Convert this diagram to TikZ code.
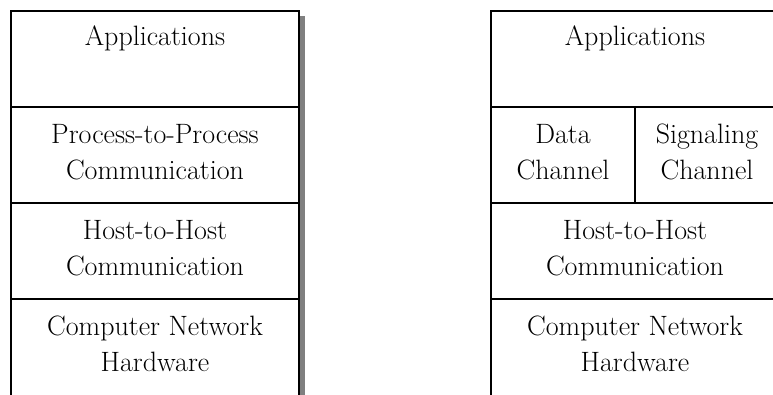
\documentclass[tikz,border=0pt]{standalone}
\definecolor{shadowgray}{RGB}{128,128,128}
\begin{document}
\begin{tikzpicture}[x=1pt,y=-1pt,
  cell/.style={draw=none, minimum width=288pt, minimum height=96pt, inner sep=0pt, outer sep=0pt, anchor=north west},
  halfcell/.style={cell, minimum width=144pt},
  txt/.style={font=\fontsize{28}{36}\selectfont, align=center, inner sep=0pt, anchor=base},
  oneline/.style={txt, yshift=-34pt},
  twoline/.style={txt, yshift=-72pt},
  border/.style={line width=2pt}]
\useasboundingbox (0,0) rectangle (773,394);
% left stack
\node[cell] (lapp) at (11,11) {};
\node[cell] (lpp) at (11,107) {};
\node[cell] (lhh) at (11,203) {};
\node[cell] (lhw) at (11,299) {};
% right stack
\node[cell] (rapp) at (491,11) {};
\node[halfcell] (rdata) at (491,107) {};
\node[halfcell] (rsig) at (635,107) {};
\node[cell] (rhh) at (491,203) {};
\node[cell] (rhw) at (491,299) {};
% shadow
\fill[shadowgray] (299.5,16) rectangle (305,400);
% borders
\draw[border] (lhw.south west) -- (lapp.north west) -- (lapp.north east) -- (lhw.south east);
\draw[border] (lpp.north west) -- (lpp.north east);
\draw[border] (lhh.north west) -- (lhh.north east);
\draw[border] (lhw.north west) -- (lhw.north east);
\draw[border] (rhw.south west) -- (rapp.north west) -- (rapp.north east);
\draw[border] (rdata.north west) -- (rsig.north east);
\draw[border] (rhh.north west) -- (rhh.north east);
\draw[border] (rhw.north west) -- (rhw.north east);
\draw[border] (rdata.north east) -- (rdata.south east);
% texts
\node[oneline] (tlapp) at (lapp.north) {Applications};
\node[twoline] (tlpp) at (lpp.north) {Process-to-Process\\Communication};
\node[twoline] (tlhh) at (lhh.north) {Host-to-Host\\Communication};
\node[twoline] (tlhw) at (lhw.north) {Computer Network\\Hardware};
\node[oneline] (trapp) at (rapp.north) {Applications};
\node[twoline] (trdata) at (rdata.north) {Data\\Channel};
\node[twoline] (trsig) at (rsig.north) {Signaling\\Channel};
\node[twoline] (trhh) at (rhh.north) {Host-to-Host\\Communication};
\node[twoline] (trhw) at (rhw.north) {Computer Network\\Hardware};
\end{tikzpicture}
\end{document}
